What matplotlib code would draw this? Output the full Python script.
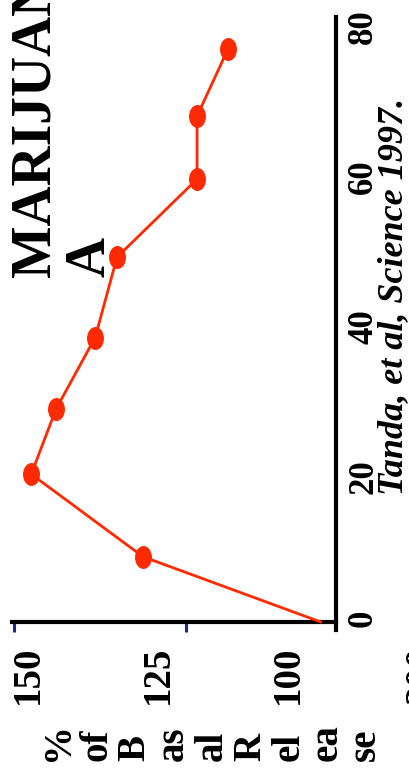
import matplotlib
matplotlib.use("Agg")
import matplotlib.pyplot as plt
from matplotlib.path import Path
from matplotlib.transforms import Affine2D

# Dopamine release after THC, time course (minutes) vs % of basal release
minutes = [0, 8.7, 19.7, 28.4, 37.9, 48.6, 59.0, 67.4, 76.4]
pct_basal = [93.7, 127.9, 149.4, 144.6, 137.1, 132.9, 117.5, 117.5, 111.5]

pct_ticks = [150, 125, 100]
pct_marks = [152.7, 119.6]
minute_ticks = [0, 20, 40, 60, 80]

title_lines = ["MARIJUAN", "A"]
ylabel_chunks = ["%", "of", "B", "as", "al", "R", "el", "ea", "se"]
citation = "Tanda, et al, Science 1997."
side_label = "200"

plt.rcParams["font.family"] = ["Liberation Serif", "DejaVu Serif"]
plt.rcParams["font.weight"] = "bold"

W, H = 410, 779
fig = plt.figure(figsize=(W / 100, H / 100), dpi=100)


def fx(px):
    return px / W


def fy(py):
    return 1 - py / H


ax = fig.add_axes([fx(12), fy(629.5), (336 - 12) / W, (629.5 - 17) / H])

red = "#ff2a00"
ellipse = Path.unit_circle().transformed(Affine2D().scale(0.72, 1.0))
ax.plot(pct_basal, minutes, color=red, lw=2.0, marker=ellipse,
        markersize=15.5, markerfacecolor=red, markeredgecolor=red,
        markevery=list(range(1, len(minutes))), clip_on=False, zorder=3)

ax.set_xlim(153.1, 90.77)
ax.set_ylim(-1, 80.6)

for side in ("left", "top"):
    ax.spines[side].set_visible(False)
ax.spines["bottom"].set_position(("data", 0))
ax.spines["bottom"].set_linewidth(3.0)
ax.spines["right"].set_linewidth(3.0)

ax.yaxis.tick_right()
ax.set_yticks(minute_ticks)
ax.tick_params(axis="y", length=0, pad=8, labelsize=25, labelrotation=90)

ax.set_xticks(pct_ticks)
ax.set_xticks(pct_marks, minor=True)
ax.tick_params(axis="x", which="major", length=0, pad=17, labelsize=28,
               labelrotation=90)
ax.tick_params(axis="x", which="minor", length=7, width=2.2,
               color="#1f2a8a", direction="out")

# Title, split over two rotated lines
for i, line in enumerate(title_lines):
    fig.text(fx(50 + 55 * i), fy(277), line, rotation=90,
             rotation_mode="anchor", ha="left", va="baseline",
             fontsize=40, fontweight="bold")

# Axis label, broken into short rotated pieces
for i, chunk in enumerate(ylabel_chunks):
    fig.text(fx(68 + 38.4 * i), fy(761), chunk, rotation=90,
             rotation_mode="anchor", ha="left", va="baseline",
             fontsize=28, fontweight="bold")

fig.text(fx(402), fy(495), citation, rotation=90, rotation_mode="anchor",
         ha="left", va="baseline", fontsize=26, fontweight="bold",
         style="italic")

fig.text(fx(422), fy(675), side_label, rotation=90, ha="center",
         va="center", fontsize=28, fontweight="bold")

fig.savefig("out.png", dpi=100)
